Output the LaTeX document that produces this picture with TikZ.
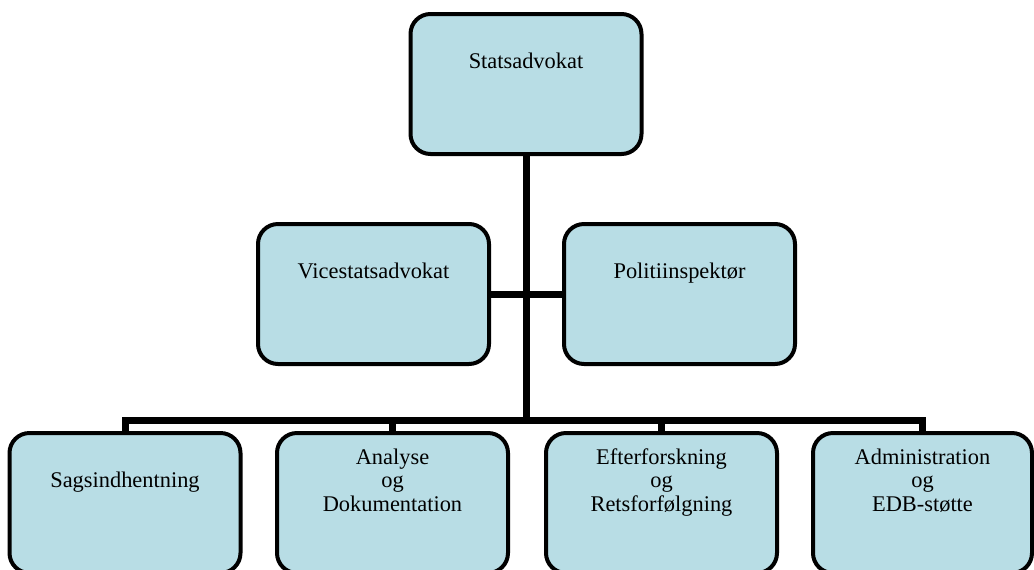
\documentclass[tikz,border=0pt]{standalone}
\usepackage{fontspec}
\setmainfont{Liberation Serif}
\definecolor{boxblue}{RGB}{184,221,229}
\begin{document}
\begin{tikzpicture}
[x=0.5pt,y=-0.5pt,
 box/.style={rectangle,rounded corners=10pt,draw,line width=2pt,fill=boxblue,
   minimum width=115.5pt,minimum height=70pt},
 txt/.style={label={[align=center,anchor=center,yshift=-26pt,
   font=\fontsize{11.2}{11.75}\selectfont]north:{\strut #1\strut}}},
 conn/.style={line width=3.5pt}]
   \clip (0,0) rectangle (1034,569);
   \node[box,txt=Statsadvokat] (stat) at (526,84) {};
   \node[box,txt=Vicestatsadvokat] (vice) at (373.5,294) {};
   \node[box,txt=Politiinspektør] (poli) at (679.5,294) {};
   \node[box,txt=Sagsindhentning] (sags) at (125,503) {};
   \node[box,txt={Analyse\\og\\Dokumentation}] (anal) at (392.5,503) {};
   \node[box,txt={Efterforskning\\og\\Retsforfølgning}] (efter) at (661.5,503) {};
   \node[box,txt={Administration\\og\\EDB-støtte},minimum width=109.5pt] (admin) at (922.5,503) {};
   \coordinate (hub) at (526,420);
    \path[draw,conn]
    (stat) -- (stat |- hub)
    (vice) -- (poli)
    (sags) |- (hub) -| (admin)
    (anal) -- (anal |- hub)
    (efter) -- (efter |- hub);

\end{tikzpicture}
\end{document}
